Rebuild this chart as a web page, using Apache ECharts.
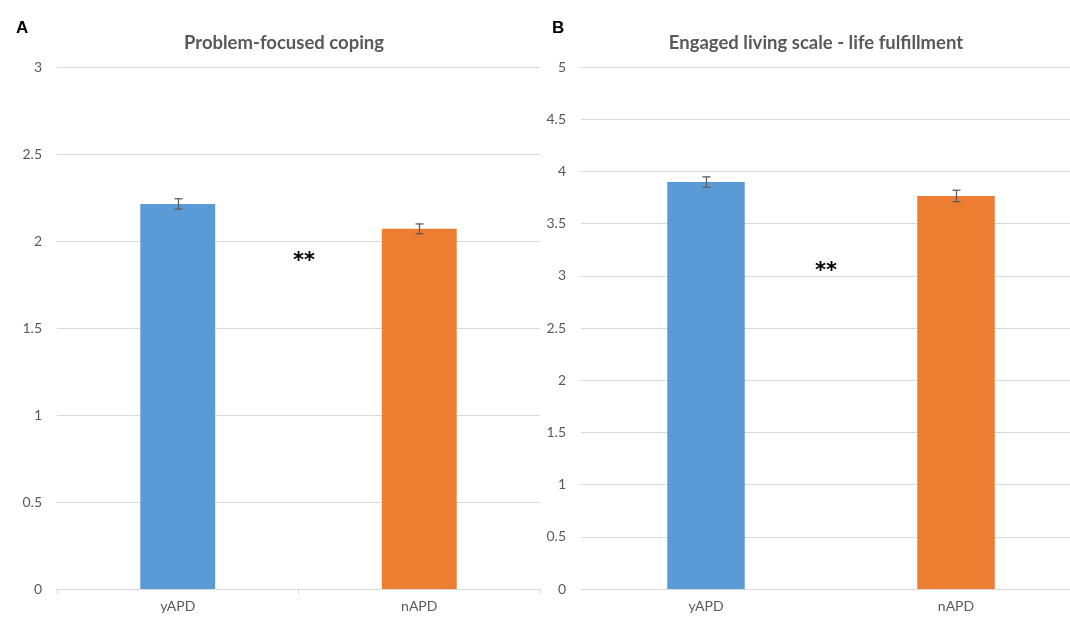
<!DOCTYPE html>
<html><head><meta charset="utf-8">
<script src="https://cdn.jsdelivr.net/npm/echarts@6/dist/echarts.min.js"></script>
<style>html,body{margin:0;padding:0;background:#fff;overflow:hidden}#c{width:1090px;height:618px}</style>
</head><body><div id="c"></div>
<script>
const categories = ['yAPD', 'nAPD'];
const titleA = 'Problem-focused coping';
const titleB = 'Engaged living scale - life fulfillment';
const meansA = [2.213, 2.070];
const errA = [0.03, 0.028];
const meansB = [3.898, 3.765];
const errB = [0.05, 0.055];
const colors = ['#5b9bd5', '#ed7d31'];
const FONT = 'Lato';
const gray = '#595959';

function errSeries(xi, means, errs) {
  return {
    type: 'custom', xAxisIndex: xi, yAxisIndex: xi, z: 10,
    data: means.map((m, i) => [i, m - errs[i], m + errs[i]]),
    renderItem: function (params, api) {
      const lo = api.coord([api.value(0), api.value(1)]);
      const hi = api.coord([api.value(0), api.value(2)]);
      const x = Math.round(lo[0]) + 0.5, w = 4;
      const st = { stroke: '#5f5f5f', lineWidth: 1.3 };
      return { type: 'group', children: [
        { type: 'line', shape: { x1: x, y1: lo[1], x2: x, y2: hi[1] }, style: st },
        { type: 'line', shape: { x1: x - w, y1: lo[1], x2: x + w, y2: lo[1] }, style: st },
        { type: 'line', shape: { x1: x - w, y1: hi[1], x2: x + w, y2: hi[1] }, style: st }
      ]};
    }
  };
}
function barSeries(xi, means) {
  return {
    type: 'bar', xAxisIndex: xi, yAxisIndex: xi, barWidth: '31%',
    data: means.map((v, i) => ({ value: v, itemStyle: { color: colors[i] } }))
  };
}
const yLab = { color: gray, fontSize: 14, fontFamily: FONT, margin: 15 };
const chart = echarts.init(document.getElementById('c'), null, { renderer: 'canvas' });
chart.setOption({
  animation: false,
  textStyle: { fontFamily: FONT },
  title: [
    { text: titleA, left: 279, top: 29, textAlign: 'center', textStyle: { color: gray, fontSize: 18.5, fontWeight: 'bold', fontFamily: FONT } },
    { text: titleB, left: 811, top: 29, textAlign: 'center', textStyle: { color: gray, fontSize: 18.5, fontWeight: 'bold', fontFamily: FONT } },
    { text: 'A', left: 11, top: 15, textStyle: { color: '#000', fontSize: 17, fontWeight: 'bold', fontFamily: 'Liberation Sans' } },
    { text: 'B', left: 547, top: 15, textStyle: { color: '#000', fontSize: 17, fontWeight: 'bold', fontFamily: 'Liberation Sans' } }
  ],
  grid: [
    { left: 57, top: 67, width: 483, height: 522 },
    { left: 581, top: 67, width: 500, height: 522 }
  ],
  xAxis: [0, 1].map(i => ({
    type: 'category', gridIndex: i, data: categories,
    axisLine: { lineStyle: { color: '#d9d9d9' } },
    axisTick: { show: i === 0, length: 5, lineStyle: { color: '#d9d9d9' } },
    axisLabel: { color: gray, fontSize: 14, fontFamily: FONT, margin: 10 }
  })),
  yAxis: [
    { type: 'value', gridIndex: 0, min: 0, max: 3, interval: 0.5,
      axisLine: { show: false }, axisTick: { show: false },
      splitLine: { lineStyle: { color: '#d9d9d9' } }, axisLabel: yLab },
    { type: 'value', gridIndex: 1, min: 0, max: 5, interval: 0.5,
      axisLine: { show: false }, axisTick: { show: false },
      splitLine: { lineStyle: { color: '#d9d9d9' } }, axisLabel: yLab }
  ],
  series: [barSeries(0, meansA), barSeries(1, meansB), errSeries(0, meansA, errA), errSeries(1, meansB, errB)],
  graphic: [
    { type: 'text', left: 293, top: 251, style: { text: '**', font: 'bold 21px "DejaVu Sans"', fill: '#000' } },
    { type: 'text', left: 815, top: 261, style: { text: '**', font: 'bold 21px "DejaVu Sans"', fill: '#000' } }
  ]
});
</script></body></html>
